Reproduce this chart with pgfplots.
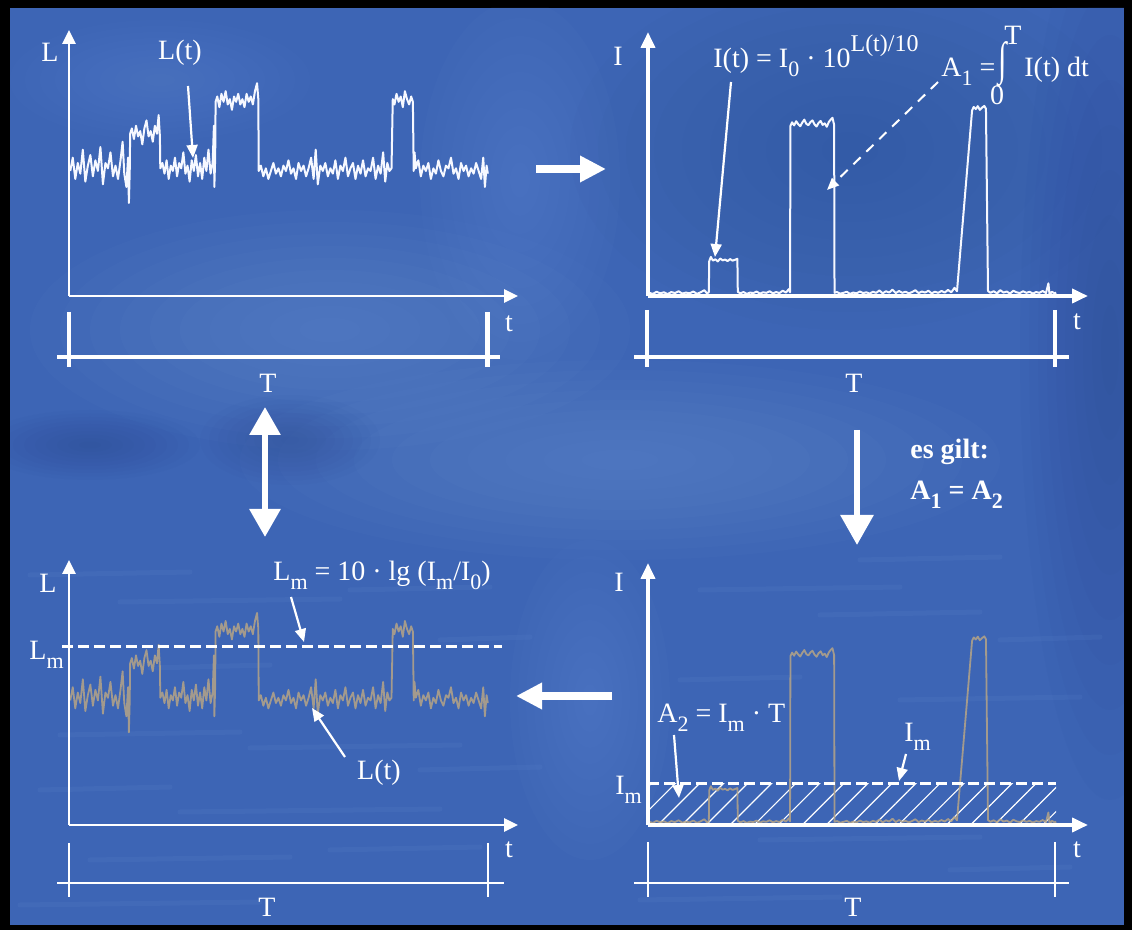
\documentclass[border=0pt]{standalone}
\usepackage{pgfplots}
\pgfplotsset{compat=1.18}
\usepackage{pgfplotstable}
\usepackage{graphicx}
\usepackage{fontspec}
\setmainfont{Liberation Serif}
\usetikzlibrary{arrows.meta,patterns.meta}

\definecolor{bgblue}{HTML}{3D65B5}
\definecolor{lightblue}{HTML}{7098DA}
\definecolor{darkblue}{HTML}{28498F}
\definecolor{trace}{HTML}{F6F8FF}
\definecolor{tantrace}{HTML}{B5A486}

% lowered index, as in L_m, I_0, A_1
\newcommand\sub[1]{\raisebox{-0.7ex}{\fontsize{11}{12}\selectfont #1}}
% soft cloud: x, y, rx, ry, colour, opacity per layer
\newcommand\blob[6]{\foreach \k in {1,...,10}{\fill[#5, opacity=#6] (#1,#2) ellipse ({#3*\k/10} and {#4*\k/10});}}

% sound level L(t) over the measuring time T (t in % of T)
\pgfplotstableread{
t L
0.3 47
0.9 52
1.5 44
2.1 50
2.7 46
3.3 55
3.9 43
4.5 49
5.1 53
5.7 45
6.3 51
6.9 47
7.5 56
8.1 42
8.7 50
9.3 48
9.9 54
10.5 45
11.1 49
11.7 44
12.3 51
12.8 58
13.2 46
13.7 41
14.1 52
14.3 35
14.5 47
14.6 61
15.0 63
15.5 59
16.0 64
16.5 60
17.0 62
17.5 57
18.0 63
18.5 66
19.0 60
19.5 62
20.0 58
20.5 64
21.0 61
21.4 68
21.7 60
21.8 48
22.3 50
22.8 46
23.3 51
23.8 44
24.3 49
24.8 47
25.3 52
25.8 45
26.3 50
26.8 48
27.3 54
27.8 46
28.3 49
28.8 43
29.3 51
29.8 47
30.3 53
30.8 45
31.3 50
31.8 44
32.3 52
32.8 47
33.3 55
33.8 46
34.3 50
34.6 64
34.7 41
34.9 52
35.0 73
35.4 75
35.9 71
36.4 76
36.9 73
37.4 77
37.9 72
38.4 74
38.9 70
39.4 75
39.9 73
40.4 76
40.9 72
41.4 74
41.9 71
42.4 76
42.9 73
43.4 75
43.9 72
44.4 77
44.9 80
45.2 74
45.3 47
45.8 49
46.4 45
47.0 48
47.6 44
48.2 47
48.8 50
49.4 46
50.0 48
50.6 45
51.2 49
51.8 47
52.4 51
53.0 46
53.6 48
54.2 44
54.8 50
55.4 47
56.0 49
56.6 45
57.2 48
57.8 52
58.4 44
58.9 55
59.4 42
60.0 49
60.6 47
61.2 50
61.8 45
62.4 48
63.0 46
63.6 51
64.2 44
64.8 49
65.4 47
66.0 52
66.6 45
67.2 48
67.8 50
68.4 44
69.0 49
69.6 46
70.2 51
70.8 45
71.4 48
72.0 47
72.6 52
73.2 44
73.8 49
74.4 46
75.0 54
75.5 43
76.0 50
76.5 47
77.0 48
77.3 74
77.7 72
78.2 76
78.7 73
79.2 75
79.7 71
80.2 77
80.7 74
81.2 72
81.7 75
82.1 73
82.3 47
82.5 54
82.8 48
83.4 51
84.0 45
84.6 49
85.2 47
85.8 50
86.4 44
87.0 48
87.6 46
88.2 51
88.8 47
89.4 45
90.0 49
90.6 48
91.2 52
91.8 46
92.4 48
93.0 44
93.6 50
94.2 47
94.8 49
95.4 45
96.0 48
96.6 46
97.2 50
97.8 47
98.4 44
98.9 52
99.3 41
99.7 49
100.0 46
}\Ldata

% sound intensity I(t) over the measuring time T
\pgfplotstableread{
t I
0.3 1.2
1.2 0.8
2.1 1.6
3.0 1.0
3.9 1.4
4.8 0.7
5.7 1.5
6.6 1.1
7.5 1.8
8.4 0.9
9.3 1.3
10.2 1.0
11.1 1.7
12.0 0.8
12.9 1.4
13.8 2.2
14.5 0.9
14.9 1.5
15.0 13.2
15.4 14.8
15.9 13.4
16.5 13.9
17.1 13.1
17.7 14.2
18.3 13.5
18.9 13.8
19.5 13.2
20.1 14.0
20.7 13.4
21.3 13.7
21.9 14.1
22.0 1.6
22.6 1.0
23.4 1.5
24.2 0.8
25.0 1.3
25.8 1.1
26.6 1.7
27.4 0.9
28.2 1.4
29.0 1.2
29.8 1.8
30.6 1.0
31.4 1.5
32.2 1.1
33.0 2.0
33.8 1.3
34.5 2.6
34.8 1.4
34.9 64.5
35.3 65.8
35.8 64.6
36.3 66.2
36.8 65.1
37.3 64.3
37.8 65.7
38.3 66.8
38.8 65.2
39.3 64.7
39.8 65.9
40.3 66.5
40.8 65.0
41.3 64.2
41.8 65.6
42.3 66.3
42.8 64.8
43.3 65.4
43.8 64.1
44.3 65.9
44.8 66.9
45.2 67.5
45.6 64.8
45.7 1.2
46.3 1.5
47.1 0.9
47.9 1.2
48.7 1.6
49.5 0.8
50.3 1.3
51.1 1.0
51.9 1.7
52.7 1.1
53.5 1.4
54.3 0.9
55.1 1.6
55.9 1.2
56.7 2.1
57.5 1.0
58.3 1.8
59.1 1.3
59.9 2.4
60.7 1.1
61.5 1.9
62.3 1.2
63.1 1.6
63.9 1.0
64.7 1.5
65.5 2.2
66.3 1.1
67.1 1.7
67.9 1.3
68.7 2.0
69.5 1.0
70.3 1.6
71.1 1.2
71.9 1.9
72.7 1.3
73.5 2.3
74.3 1.4
75.1 3.1
75.7 1.8
79.4 70.3
79.8 71.6
80.3 70.8
80.8 71.9
81.3 70.5
81.8 71.3
82.4 72.0
82.8 70.9
83.3 1.9
83.9 1.2
84.7 1.8
85.5 1.0
86.3 2.2
87.1 1.3
87.9 1.7
88.7 0.9
89.5 2.0
90.3 1.4
91.1 1.1
91.9 1.8
92.7 1.2
93.5 1.6
94.3 0.9
95.1 1.5
95.9 1.2
96.7 1.9
97.5 1.1
98.1 4.8
98.4 0.2
98.9 1.6
99.7 1.0
100.0 1.3
}\Idata

\pgfplotsset{panel/.style={hide axis, scale only axis, anchor=south west,
  clip=false, xmin=0, ymin=0, ymax=100}}
\tikzset{
  axthin/.style={white, line width=1.3pt, -{Triangle[width=6.5pt,length=7pt]}},
  axthick/.style={white, line width=1.9pt, -{Triangle[width=7pt,length=8pt]}},
  pointer/.style={white, line width=1.1pt, -{Triangle[width=5.5pt,length=6.5pt]}},
  lbl/.style={text=white, inner sep=0pt},
  px/.style={x=0.5pt, y=-0.5pt},
}

\begin{document}
\begin{tikzpicture}[font=\fontsize{14}{16}\selectfont]
% frame and background (pixel grid, y downwards)
\begin{scope}[px]
\fill[black] (0,0) rectangle (1132,930);
\begin{scope}
  \clip (10,8) rectangle (1124,925);
  \fill[bgblue] (10,8) rectangle (1124,925);
  \blob{330}{330}{300}{120}{lightblue}{0.05}
  \blob{520}{180}{100}{180}{lightblue}{0.04}
  \blob{620}{460}{380}{100}{lightblue}{0.05}
  \blob{590}{700}{80}{160}{lightblue}{0.04}
  \blob{160}{80}{150}{60}{lightblue}{0.03}
  \blob{1110}{350}{90}{450}{darkblue}{0.05}
  \blob{90}{445}{110}{35}{darkblue}{0.05}
  \blob{290}{440}{90}{45}{darkblue}{0.04}
  \blob{850}{150}{280}{180}{darkblue}{0.03}
  % brushed horizontal streaks of the lower half
  \foreach \sx/\sy/\sl in {30/575/160, 120/602/220, 350/590/140, 60/735/180, 250/748/210,
      40/790/130, 180/812/260, 420/770/120, 90/860/200, 330/850/150, 20/905/240,
      700/590/200, 820/615/160, 680/680/120, 900/700/180, 760/840/220, 950/870/120,
      1000/640/100, 640/900/200, 440/640/90, 150/668/120, 860/560/140}
    {\draw[lightblue, opacity=0.1, line width=2.5pt, line cap=round] (\sx,\sy) -- ++(\sl,-3);}
\end{scope}
\end{scope}

% ---------- level L(t)
\begin{axis}[panel, at={(34.5pt,-148pt)}, xmax=107.2, width=224.5pt, height=133pt]
  \addplot[trace, line width=1pt, line join=round] table {\Ldata};
  \draw[axthin] (axis cs:0,0) -- (axis cs:107.2,0);
  \draw[axthin] (axis cs:0,0) -- (axis cs:0,100);
\end{axis}

% ---------- intensity I(t)
\begin{axis}[panel, at={(324pt,-148pt)}, xmax=107.8, width=220pt, height=132pt]
  \addplot[trace, line width=1pt, line join=round] table {\Idata};
  \draw[axthick] (axis cs:0,0) -- (axis cs:107.8,0);
  \draw[axthick] (axis cs:0,0) -- (axis cs:0,100);
\end{axis}

% ---------- equivalent level L_m
\begin{axis}[panel, at={(34.5pt,-412.5pt)}, xmax=107.2, width=224.5pt, height=132.5pt]
  \addplot[tantrace, opacity=0.85, line width=0.9pt, line join=round] table {\Ldata};
  \addplot[white, line width=1.5pt, dash pattern=on 5.5pt off 2.5pt] coordinates {(-1.7,67.2) (103.3,67.2)};
  \draw[axthin] (axis cs:0,0) -- (axis cs:107.2,0);
  \draw[axthin] (axis cs:0,0) -- (axis cs:0,100);
\end{axis}

% ---------- mean intensity I_m
\begin{axis}[panel, at={(324pt,-412.5pt)}, xmax=107.8, width=220pt, height=131pt]
  \addplot[draw=none, pattern={Lines[angle=45, distance=8.5pt, line width=0.6pt]}, pattern color=white] coordinates {(0,16) (100,16)} \closedcycle;
  \addplot[tantrace, opacity=0.85, line width=0.9pt, line join=round] table {\Idata};
  \addplot[white, line width=1.5pt, dash pattern=on 5.5pt off 2.5pt] coordinates {(0,16) (100,16)};
  \draw[axthick] (axis cs:0,0) -- (axis cs:107.8,0);
  \draw[axthick] (axis cs:0,0) -- (axis cs:0,100);
\end{axis}

% ---------- labels, pointers, time brackets, transitions
\begin{scope}[px]
\node[lbl] at (50,52) {L};
\node[lbl] at (180,53) {L(t)};
\draw[pointer] (188,86) -- (193,158);
\node[lbl] at (509,324) {t};
\node[lbl] at (268,383) {T};
\draw[white, line width=2.2pt] (57,357) -- (500,357) (69,312) -- (69,367) (487.5,312) -- (487.5,367);

\draw[white, line width=4pt, -{Triangle[width=12.5pt,length=13pt]}] (536,169) -- (606,169);

\node[lbl] at (618,56) {I};
\node[lbl, anchor=base west] at (713,68) {I(t) = I\sub{0} · 10\raisebox{1.3ex}{\fontsize{12}{13}\selectfont L(t)/10}};
\draw[pointer] (731,82) -- (715,257);
\node[lbl, anchor=base west] at (941,77) {A\sub{1} =};
\node[lbl] at (1003,64) {\scalebox{1.1}[1.65]{∫}};
\node[lbl] at (1013,35) {T};
\node[lbl] at (997,95) {0};
\node[lbl, anchor=base west] at (1024,77) {I(t) dt};
\draw[white, line width=1pt, dash pattern=on 5pt off 4pt, -{Triangle[width=5pt,length=6pt]}] (938,82) -- (827,190);
\node[lbl] at (1077,322) {t};
\node[lbl] at (854,383) {T};
\draw[white, line width=1.8pt] (634,357) -- (1069,357) (647,310) -- (647,367) (1055,310) -- (1055,367);

\draw[white, line width=3pt, -{Triangle[width=16pt,length=15pt]}] (857,430) -- (857,545);
\node[lbl, anchor=west] at (910,452) {\textbf{es gilt:}};
\node[lbl, anchor=west] at (910,495) {\textbf{A\sub{1} = A\sub{2}}};
\draw[white, line width=3pt, {Triangle[width=15pt,length=14pt]}-{Triangle[width=15pt,length=14pt]}] (265,407) -- (265,537);
\draw[white, line width=4pt, -{Triangle[width=12.5pt,length=13pt]}] (612,696) -- (516,696);

\node[lbl] at (48,583) {L};
\node[lbl, anchor=base west] at (273,581) {L\sub{m} = 10 · lg (I\sub{m}/I\sub{0})};
\draw[pointer] (291,597) -- (304,642);
\node[lbl, anchor=base west] at (29,660) {L\sub{m}};
\node[lbl] at (379,773) {L(t)};
\draw[pointer] (345,757) -- (312,708);
\node[lbl] at (509,850) {t};
\node[lbl] at (267,907) {T};
\draw[white, line width=1.4pt] (57,883) -- (504,883) (69,843) -- (69,897) (488,843) -- (488,897);

\node[lbl] at (619,582) {I};
\node[lbl, anchor=base west] at (657,723) {A\sub{2} = I\sub{m} · T};
\draw[pointer] (674,735) -- (679,798);
\node[lbl, anchor=base west] at (904,742) {I\sub{m}};
\draw[pointer] (906,754) -- (899,781);
\node[lbl, anchor=base west] at (615,795) {I\sub{m}};
\node[lbl] at (1077,850) {t};
\node[lbl] at (853,907) {T};
\draw[white, line width=1.4pt] (634,883) -- (1069,883) (648,842) -- (648,897) (1055,842) -- (1055,897);
\end{scope}
\end{tikzpicture}
\end{document}
